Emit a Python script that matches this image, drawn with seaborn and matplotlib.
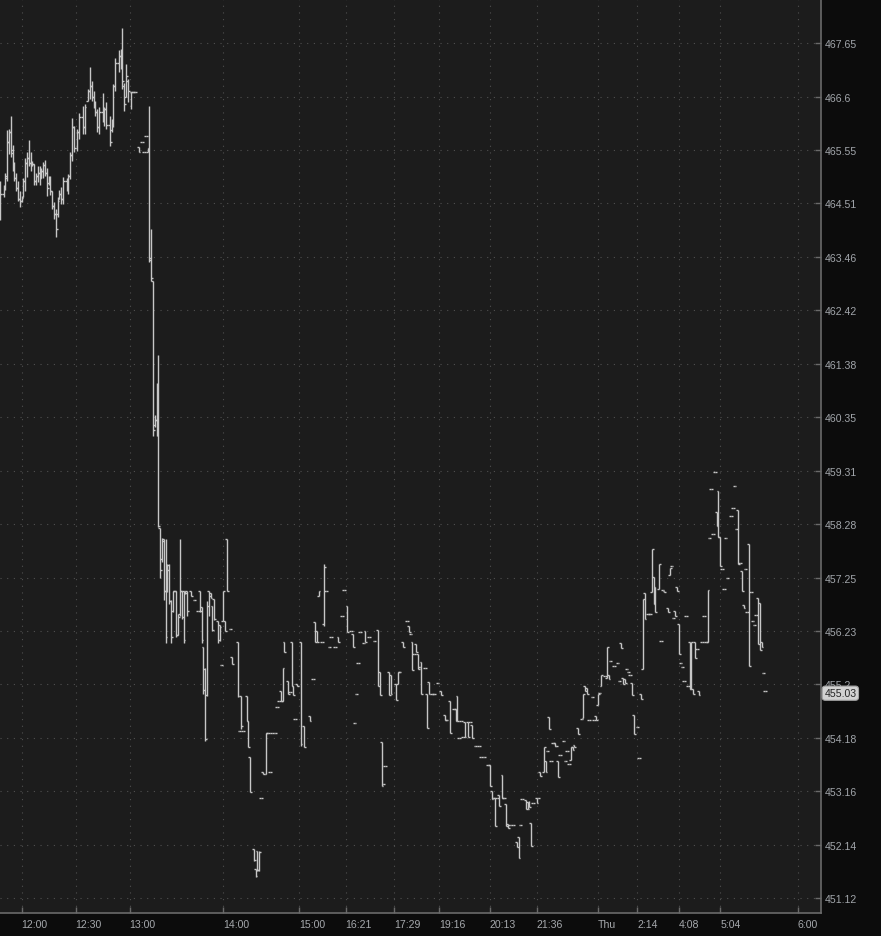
import matplotlib
matplotlib.use('Agg')
import matplotlib.pyplot as plt
import matplotlib.ticker as mticker
import seaborn as sns
import pandas as pd

# one-minute bars, x = bar number since 11:48
bar_index = [0, 2, 3, 4, 5, 6, 7, 8, 9, 10,
             11, 12, 13, 14, 15, 16, 17, 18, 19, 20,
             21, 22, 23, 24, 25, 26, 27, 28, 29, 30,
             31, 32, 33, 34, 35, 37, 38, 39, 40, 41,
             43, 44, 46, 47, 49, 50, 51, 52, 53, 54,
             55, 57, 58, 59, 61, 62, 63, 64, 66, 67,
             68, 69, 70, 71, 73, 74, 75, 77, 79, 80,
             81, 82, 83, 84, 85, 86, 87, 88, 89, 90,
             91, 92, 93, 94, 95, 96, 97, 98, 99, 100,
             101, 102, 103, 104, 106, 108, 110, 111, 112, 113,
             114, 115, 116, 117, 118, 119, 121, 122, 123, 124,
             125, 126, 128, 129, 132, 133, 134, 135, 137, 138,
             139, 141, 142, 143, 144, 145, 146, 148, 149, 150,
             151, 153, 154, 155, 156, 157, 158, 160, 161, 162,
             163, 164, 165, 167, 169, 172, 174, 175, 176, 177,
             179, 180, 181, 183, 184, 186, 188, 190, 191, 193,
             195, 196, 197, 198, 199, 200, 202, 203, 205, 208,
             210, 211, 212, 213, 214, 216, 217, 220, 221, 222,
             224, 226, 227, 228, 229, 230, 231, 232, 233, 234,
             236, 237, 238, 240, 241, 243, 245, 247, 248, 250,
             252, 253, 254, 255, 256, 257, 258, 260, 261, 262,
             264, 266, 267, 269, 271, 272, 273, 274, 275, 276,
             277, 279, 280, 281, 282, 283, 285, 287, 288, 289,
             290, 292, 293, 294, 295, 296, 298, 299, 300, 302,
             303, 304, 305, 306, 307, 308, 309, 310, 311, 313,
             314, 315, 316, 317, 318, 319, 321, 323, 324, 325,
             326, 327, 329, 330, 331, 332, 333, 334, 336, 337,
             338, 339, 341, 343, 344, 345, 346, 347, 348, 349,
             350, 351, 352, 354, 355, 356, 357, 358, 360, 361,
             362, 363, 364, 366, 367, 368, 369, 371, 372, 373,
             374, 375, 376, 377, 378, 379, 380, 381, 382, 383,
             384, 385, 386, 387, 388, 390, 391, 392, 393, 394,
             395, 396, 397, 398, 399, 400, 401, 402, 403, 404,
             406, 407, 408, 409, 410, 411, 412, 413, 414, 415,
             416, 417, 418, 419, 420, 421, 422, 423, 424, 425]

open_ = [464.40, 464.70, 464.78, 465.00, 465.70, 465.90, 465.55, 465.20, 465.00, 464.80,
         464.60, 464.55, 464.64, 464.95, 465.30, 465.40, 465.30, 465.25, 465.28, 464.95,
         465.05, 465.10, 465.00, 465.15, 465.25, 465.10, 464.90, 465.00, 464.74, 464.45,
         464.30, 464.30, 464.60, 464.70, 464.60, 464.95, 464.80, 465.05, 465.45, 466.00,
         465.60, 465.90, 466.20, 466.00, 466.52, 466.70, 466.80, 466.60, 466.45, 466.30,
         466.00, 466.30, 466.20, 466.35, 466.05, 465.95, 466.10, 466.80, 467.25, 467.40,
         467.20, 466.80, 466.60, 466.90, 466.69, 466.69, 466.69, 465.61, 465.71, 465.51,
         465.83, 465.51, 465.55, 463.40, 463.00, 460.20, 460.30, 460.00, 458.20, 457.60,
         458.00, 457.00, 457.00, 457.50, 456.80, 456.60, 457.00, 457.00, 456.15, 456.55,
         457.00, 457.00, 457.00, 457.00, 457.00, 456.81, 456.61, 457.00, 456.68, 455.91,
         455.50, 455.00, 457.00, 456.95, 456.70, 456.84, 456.42, 456.33, 455.57, 456.42,
         456.42, 458.00, 456.27, 455.73, 456.02, 454.31, 454.98, 454.31, 454.98, 454.50,
         453.81, 452.06, 451.67, 452.02, 451.65, 453.03, 453.53, 453.49, 454.27, 453.53,
         454.27, 454.27, 454.77, 454.88, 455.07, 454.88, 456.02, 455.27, 455.05, 456.02,
         455.17, 454.54, 455.21, 456.02, 454.41, 454.60, 455.31, 456.40, 456.23, 456.90,
         456.02, 456.35, 456.99, 455.92, 456.11, 455.92, 456.11, 456.52, 457.01, 456.71,
         456.23, 456.17, 454.45, 455.02, 455.61, 456.21, 456.00, 456.23, 456.11, 456.04,
         456.25, 455.44, 454.10, 453.30, 453.64, 455.44, 455.37, 455.21, 455.21, 455.44,
         456.02, 456.42, 456.31, 456.17, 456.02, 455.79, 455.98, 455.79, 455.54, 455.63,
         455.52, 455.02, 455.25, 455.02, 455.02, 455.23, 455.07, 454.62, 454.52, 454.88,
         454.73, 454.73, 454.98, 454.17, 454.50, 454.19, 454.48, 454.48, 454.48, 454.43,
         454.02, 454.02, 453.81, 453.81, 453.66, 453.66, 453.16, 453.03, 453.03, 453.03,
         453.09, 453.47, 453.03, 452.92, 452.54, 452.52, 452.52, 452.19, 452.29, 452.52,
         453.01, 452.99, 452.95, 452.95, 452.56, 452.93, 453.03, 453.03, 453.53, 453.53,
         453.74, 453.93, 454.58, 453.74, 454.08, 454.08, 454.02, 453.74, 453.85, 454.12,
         453.74, 453.93, 453.68, 453.76, 454.00, 454.04, 454.37, 454.54, 454.56, 455.17,
         455.13, 454.52, 454.96, 454.52, 454.60, 454.81, 455.04, 455.17, 455.35, 455.33,
         455.37, 455.65, 455.56, 455.61, 455.27, 456.00, 455.33, 455.31, 455.50, 455.44,
         455.37, 455.23, 454.62, 454.39, 453.79, 455.02, 455.50, 456.95, 456.55, 456.55,
         456.97, 457.26, 457.07, 457.03, 456.04, 457.01, 456.99, 456.67, 457.30, 457.48,
         456.48, 456.61, 457.07, 456.36, 455.61, 455.54, 455.27, 456.52, 455.17, 456.02,
         455.11, 455.11, 456.02, 455.88, 455.07, 456.02, 456.52, 456.02, 456.02, 458.01,
         458.96, 458.09, 459.29, 458.51, 458.92, 458.03, 457.42, 457.03, 458.01, 457.24,
         458.43, 458.59, 459.01, 458.19, 458.55, 457.53, 457.38, 456.72, 457.42, 456.59,
         457.90, 456.97, 456.42, 456.34, 456.53, 456.86, 456.76, 456.02, 455.42, 455.07]

high = [464.95, 464.87, 465.11, 465.95, 465.97, 466.22, 465.65, 465.32, 465.11, 464.95,
        464.74, 464.66, 465.01, 465.40, 465.51, 465.75, 465.51, 465.34, 465.28, 465.11,
        465.24, 465.23, 465.19, 465.32, 465.36, 465.19, 465.05, 465.05, 464.74, 464.54,
        464.40, 464.64, 464.76, 464.82, 465.03, 465.01, 465.09, 465.51, 466.18, 466.03,
        465.97, 466.28, 466.42, 466.46, 466.75, 467.18, 466.91, 466.71, 466.52, 466.36,
        466.40, 466.67, 466.40, 466.50, 466.22, 466.16, 466.85, 467.36, 467.52, 467.54,
        467.95, 466.87, 467.24, 466.95, 466.69, 466.69, 466.69, 465.61, 465.71, 465.51,
        465.83, 465.59, 466.42, 464.00, 463.00, 460.39, 461.01, 461.55, 458.20, 458.01,
        458.00, 458.00, 457.51, 457.51, 456.81, 457.00, 457.00, 457.00, 456.55, 458.00,
        457.00, 457.00, 457.00, 457.00, 457.00, 456.81, 456.61, 457.00, 456.68, 455.91,
        455.51, 456.79, 457.00, 456.95, 456.70, 456.84, 456.42, 456.33, 455.57, 457.00,
        456.42, 458.00, 456.27, 455.73, 456.02, 454.31, 454.98, 454.31, 454.98, 454.50,
        453.81, 452.06, 451.67, 452.02, 452.02, 453.03, 453.53, 454.27, 454.27, 453.53,
        454.27, 454.27, 454.77, 454.88, 455.07, 455.52, 456.02, 455.27, 455.05, 456.02,
        455.17, 454.54, 455.21, 456.02, 454.41, 454.60, 455.31, 456.40, 456.23, 456.99,
        456.02, 457.51, 456.99, 455.92, 456.11, 455.92, 456.11, 456.52, 457.01, 456.71,
        456.23, 456.17, 454.45, 455.02, 455.61, 456.21, 456.00, 456.23, 456.11, 456.04,
        456.25, 455.44, 454.10, 453.30, 453.64, 455.44, 455.37, 455.21, 455.44, 455.44,
        456.02, 456.42, 456.31, 456.17, 456.02, 455.79, 455.98, 455.79, 455.54, 455.63,
        455.52, 455.02, 455.25, 455.02, 455.02, 455.23, 455.07, 454.62, 454.52, 454.88,
        454.73, 454.73, 454.98, 454.17, 454.50, 454.19, 454.48, 454.48, 454.48, 454.43,
        454.02, 454.02, 453.81, 453.81, 453.66, 453.66, 453.16, 453.03, 453.03, 453.03,
        453.09, 453.47, 453.03, 452.92, 452.54, 452.52, 452.52, 452.19, 452.29, 452.52,
        453.01, 452.99, 452.95, 452.97, 452.56, 452.93, 453.03, 453.03, 453.53, 454.00,
        453.74, 453.93, 454.58, 453.74, 454.08, 454.08, 454.02, 453.74, 453.85, 454.12,
        453.74, 453.93, 453.68, 454.00, 454.00, 454.04, 454.37, 454.54, 455.02, 455.17,
        455.13, 454.52, 454.96, 454.52, 454.60, 455.02, 455.04, 455.38, 455.35, 455.92,
        455.37, 455.65, 455.56, 455.61, 455.27, 456.00, 455.33, 455.31, 455.50, 455.44,
        455.37, 455.23, 454.62, 454.39, 453.79, 455.02, 456.84, 456.95, 456.55, 456.55,
        457.80, 457.26, 457.07, 457.51, 456.04, 457.01, 456.99, 456.67, 457.44, 457.48,
        456.48, 456.61, 457.07, 456.36, 455.61, 455.54, 455.27, 456.52, 455.17, 456.02,
        456.02, 455.11, 456.02, 455.88, 455.07, 456.02, 456.52, 456.02, 457.01, 458.01,
        458.96, 458.09, 459.29, 458.51, 458.92, 458.03, 457.42, 457.03, 458.01, 457.24,
        458.43, 458.59, 459.01, 458.19, 458.55, 457.53, 457.38, 456.72, 457.42, 456.59,
        457.90, 456.97, 456.42, 456.34, 456.53, 456.86, 456.76, 456.02, 455.42, 455.07]

low = [464.19, 464.64, 464.76, 464.95, 465.47, 465.42, 465.15, 464.95, 464.74, 464.56,
       464.44, 464.54, 464.64, 464.74, 465.03, 465.23, 465.15, 465.24, 464.86, 464.86,
       464.93, 464.86, 465.00, 465.01, 465.05, 464.66, 464.86, 464.68, 464.40, 464.21,
       463.85, 464.25, 464.60, 464.50, 464.50, 464.74, 464.70, 464.99, 465.34, 465.51,
       465.53, 465.77, 465.87, 465.87, 466.52, 466.55, 466.52, 466.38, 466.22, 465.91,
       465.87, 466.10, 466.03, 465.97, 465.63, 465.91, 466.01, 466.71, 467.09, 467.14,
       466.75, 466.32, 466.59, 466.50, 466.36, 466.69, 466.69, 465.51, 465.71, 465.51,
       465.83, 465.51, 463.37, 463.00, 459.99, 460.16, 459.99, 458.22, 457.25, 457.54,
       456.81, 456.00, 456.98, 456.75, 456.00, 456.59, 457.00, 456.11, 456.15, 456.52,
       456.46, 456.00, 456.94, 456.52, 456.90, 456.81, 456.61, 456.59, 456.00, 455.01,
       454.12, 454.98, 456.52, 456.86, 456.23, 456.44, 456.00, 456.04, 455.57, 456.42,
       456.23, 457.00, 456.27, 455.59, 454.96, 454.31, 454.35, 454.31, 454.50, 454.00,
       453.15, 451.82, 451.52, 451.63, 451.63, 453.03, 453.49, 453.49, 454.27, 453.53,
       454.27, 454.27, 454.77, 454.88, 454.88, 454.88, 455.82, 455.01, 455.05, 455.17,
       454.99, 454.54, 455.17, 454.02, 454.00, 454.50, 455.31, 456.02, 456.02, 456.90,
       456.02, 456.31, 456.99, 455.92, 456.11, 455.92, 456.02, 456.52, 457.01, 456.21,
       456.23, 455.92, 454.45, 455.02, 455.61, 456.21, 456.00, 456.02, 456.11, 456.04,
       455.17, 454.99, 453.26, 453.30, 453.64, 454.99, 455.02, 454.90, 455.21, 455.44,
       455.92, 456.42, 456.21, 456.17, 455.48, 455.79, 455.82, 455.50, 455.54, 455.02,
       455.52, 454.37, 455.02, 455.02, 455.02, 455.23, 454.99, 454.52, 454.52, 454.27,
       454.73, 454.50, 454.50, 454.17, 454.50, 454.19, 454.19, 454.19, 454.48, 454.17,
       454.02, 454.02, 453.81, 453.81, 453.66, 453.26, 453.01, 453.03, 452.50, 453.03,
       452.88, 453.03, 453.03, 452.50, 452.46, 452.52, 452.52, 452.10, 451.89, 452.52,
       453.01, 452.82, 452.82, 452.86, 452.12, 452.93, 452.93, 453.03, 453.45, 453.53,
       453.53, 453.93, 454.35, 453.74, 454.08, 454.02, 454.02, 453.43, 453.85, 454.12,
       453.74, 453.93, 453.68, 453.76, 453.94, 454.00, 454.25, 454.54, 454.56, 455.07,
       455.02, 454.52, 454.96, 454.52, 454.52, 454.81, 455.04, 455.17, 455.35, 455.33,
       455.31, 455.65, 455.56, 455.61, 455.27, 455.90, 455.21, 455.23, 455.50, 455.44,
       455.37, 454.99, 454.25, 454.39, 453.79, 454.92, 455.50, 456.46, 456.55, 456.55,
       456.97, 456.75, 456.59, 457.03, 456.04, 457.01, 456.97, 456.59, 457.30, 457.48,
       456.48, 456.52, 456.99, 455.79, 455.61, 455.54, 455.27, 456.52, 455.17, 455.11,
       455.11, 455.02, 455.71, 455.88, 454.99, 456.02, 456.52, 456.02, 456.02, 458.01,
       458.96, 458.09, 459.29, 458.24, 458.03, 457.48, 457.42, 457.03, 458.01, 457.24,
       458.43, 458.59, 459.01, 458.19, 457.51, 457.53, 456.99, 456.67, 457.42, 456.59,
       455.56, 456.97, 456.42, 456.34, 456.53, 455.98, 455.86, 455.92, 455.42, 455.07]

close = [464.70, 464.80, 465.05, 465.70, 465.90, 465.50, 465.20, 465.00, 464.80, 464.60,
         464.55, 464.62, 464.95, 465.30, 465.40, 465.30, 465.25, 465.28, 464.95, 465.05,
         465.10, 465.00, 465.15, 465.25, 465.10, 464.80, 465.00, 464.75, 464.45, 464.30,
         464.00, 464.55, 464.70, 464.60, 464.95, 464.80, 465.05, 465.45, 466.00, 465.60,
         465.90, 466.20, 466.00, 466.40, 466.70, 466.80, 466.60, 466.45, 466.30, 466.00,
         466.30, 466.20, 466.35, 466.05, 465.70, 466.10, 466.80, 467.25, 467.40, 467.20,
         466.90, 466.45, 467.00, 466.70, 466.69, 466.69, 466.69, 465.51, 465.71, 465.51,
         465.83, 465.59, 463.45, 463.05, 460.10, 460.30, 460.00, 458.25, 457.40, 457.95,
         457.00, 456.10, 457.40, 456.80, 456.10, 457.00, 457.00, 456.15, 456.50, 457.00,
         456.50, 456.05, 456.95, 456.60, 456.90, 456.81, 456.61, 456.60, 456.05, 455.10,
         454.15, 456.70, 456.90, 456.86, 456.25, 456.45, 456.05, 456.30, 455.57, 457.00,
         456.23, 457.00, 456.27, 455.59, 454.98, 454.31, 454.40, 454.31, 454.50, 454.00,
         453.15, 451.85, 451.55, 451.65, 452.00, 453.03, 453.49, 454.27, 454.27, 453.53,
         454.27, 454.27, 454.77, 454.88, 454.88, 455.52, 455.82, 455.01, 455.05, 455.17,
         454.99, 454.54, 455.17, 454.05, 454.00, 454.50, 455.31, 456.02, 456.02, 456.99,
         456.02, 457.45, 456.99, 455.92, 456.11, 455.92, 456.02, 456.52, 457.01, 456.21,
         456.23, 455.92, 454.45, 455.02, 455.61, 456.21, 456.00, 456.02, 456.11, 456.04,
         455.17, 454.99, 453.26, 453.30, 453.64, 454.99, 455.02, 454.90, 455.44, 455.44,
         455.92, 456.42, 456.21, 456.17, 455.48, 455.79, 455.82, 455.50, 455.54, 455.02,
         455.52, 454.37, 455.02, 455.02, 455.02, 455.23, 454.99, 454.52, 454.52, 454.27,
         454.73, 454.50, 454.50, 454.17, 454.50, 454.19, 454.19, 454.19, 454.48, 454.17,
         454.02, 454.02, 453.81, 453.81, 453.66, 453.26, 453.01, 453.03, 452.50, 453.03,
         452.88, 453.03, 453.03, 452.50, 452.46, 452.52, 452.52, 452.10, 451.89, 452.52,
         453.01, 452.82, 452.82, 452.86, 452.12, 452.93, 452.93, 453.03, 453.45, 454.00,
         453.53, 453.93, 454.35, 453.74, 454.08, 454.02, 454.02, 453.43, 453.85, 454.12,
         453.74, 453.93, 453.68, 454.00, 453.94, 454.00, 454.25, 454.54, 455.02, 455.07,
         455.02, 454.52, 454.96, 454.52, 454.52, 455.02, 455.04, 455.38, 455.35, 455.92,
         455.31, 455.65, 455.56, 455.61, 455.27, 455.90, 455.21, 455.23, 455.50, 455.44,
         455.37, 454.99, 454.25, 454.39, 453.79, 454.92, 456.84, 456.46, 456.55, 456.55,
         457.80, 456.75, 456.59, 457.51, 456.04, 457.01, 456.97, 456.59, 457.44, 457.48,
         456.48, 456.52, 456.99, 455.79, 455.61, 455.54, 455.27, 456.52, 455.17, 455.11,
         456.02, 455.02, 455.71, 455.88, 454.99, 456.02, 456.52, 456.02, 457.01, 458.01,
         458.96, 458.09, 459.29, 458.24, 458.03, 457.48, 457.42, 457.03, 458.01, 457.24,
         458.43, 458.59, 459.01, 458.19, 457.51, 457.53, 456.99, 456.67, 457.42, 456.59,
         455.56, 456.97, 456.42, 456.34, 456.53, 455.98, 455.86, 455.92, 455.42, 455.07]

price_ticks = [451.12, 452.14, 453.16, 454.18, 455.2, 456.23, 457.25, 458.28, 459.31,
               460.35, 461.38, 462.42, 463.46, 464.51, 465.55, 466.6, 467.65]
price_labels = ['451.12', '452.14', '453.16', '454.18', '455.2', '456.23', '457.25', '458.28',
                '459.31', '460.35', '461.38', '462.42', '463.46', '464.51', '465.55', '466.6', '467.65']
time_ticks = [12, 42, 72, 124, 166, 192, 219, 244, 272, 298, 332, 354, 377, 400, 443]
time_labels = ['12:00', '12:30', '13:00', '14:00', '15:00', '16:21', '17:29', '19:16',
               '20:13', '21:36', 'Thu', '2:14', '4:08', '5:04', '6:00']
last_price = 455.03

bars = pd.DataFrame({'i': bar_index, 'open': open_, 'high': high, 'low': low, 'close': close})

sns.set_theme(style='dark', rc={'axes.facecolor': '#1c1c1c', 'figure.facecolor': '#0c0c0c',
                                'axes.edgecolor': '#6a6a6a'})
plt.rcParams['font.family'] = ['Liberation Sans', 'DejaVu Sans']

fig = plt.figure(figsize=(8.81, 9.37), dpi=100)
ax = fig.add_axes([0, 23 / 937, 821 / 881, 914 / 937])

bar_col = '#c6c6c6'
ax.vlines(bars['i'], bars['low'], bars['high'], color=bar_col, lw=1.0, zorder=3)
ax.hlines(bars['open'], bars['i'] - 1.0, bars['i'], color=bar_col, lw=1.0, zorder=3)
ax.hlines(bars['close'], bars['i'], bars['i'] + 1.0, color=bar_col, lw=1.0, zorder=3)

ax.set_yscale('log')
ax.set_ylim(450.84, 468.52)
ax.set_xlim(0, 456)
ax.yaxis.set_minor_locator(mticker.NullLocator())
ax.yaxis.set_minor_formatter(mticker.NullFormatter())
ax.set_yticks(price_ticks)
ax.set_yticklabels(price_labels)
ax.set_xticks(time_ticks)
ax.set_xticklabels(time_labels, ha='left')

ax.yaxis.tick_right()
ax.tick_params(axis='y', which='major', direction='in', length=4, width=1, color='#6a6a6a',
               labelcolor='#a2a6ab', labelsize=7.6, pad=3, right=True, left=False)
ax.tick_params(axis='x', which='major', direction='in', length=4, width=1, color='#6a6a6a',
               labelcolor='#a6a9ad', labelsize=7.6, pad=4, bottom=True)

ax.grid(True, which='major', color='#505050', lw=0.8, linestyle=(0, (1, 5)))
for side in ['top', 'left']:
    ax.spines[side].set_visible(False)
for side in ['right', 'bottom']:
    ax.spines[side].set_color('#6a6a6a')
    ax.spines[side].set_linewidth(1.2)

ax.text(1.004, last_price, f'{last_price:.2f}', transform=ax.get_yaxis_transform(),
        ha='left', va='center', fontsize=7.6, color='#262626', zorder=10, clip_on=False,
        bbox=dict(boxstyle='round,pad=0.2,rounding_size=0.3', fc='#d2d2d2', ec='#a0a0a0', lw=0.8))

fig.savefig('out.png', dpi=100, facecolor=fig.get_facecolor())
